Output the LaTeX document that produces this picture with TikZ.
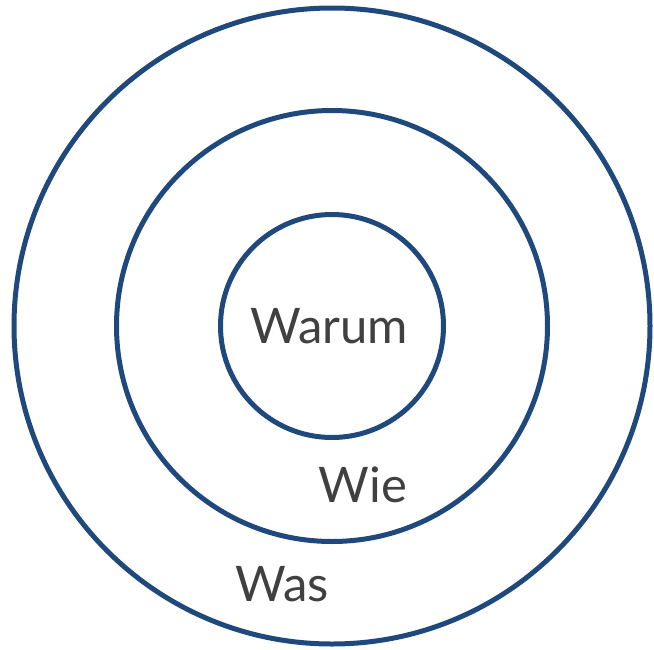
\documentclass[tikz,border=0pt]{standalone}
\usepackage{fontspec}
\setmainfont{Lato}
\usepackage{tikz}
\usetikzlibrary{positioning}
\definecolor{ringblue}{RGB}{31,73,125}
\definecolor{textgray}{RGB}{64,64,64}

\begin{document}
\begin{tikzpicture}[x=1pt,y=-1pt]
                \useasboundingbox (0,0) rectangle (654,649);
                \def\rA{318}
                \def\rB{215.5}
                \def\rC{111.5}
                \coordinate (m) at (332,326);
                %Rings
                \draw[ringblue, line width=5pt] (m) circle(\rA pt);
                \draw[ringblue, line width=5pt] (m) circle(\rB pt);
                \draw[ringblue, line width=5pt] (m) circle(\rC pt);
                %Labels
                \node[anchor=base, textgray, inner sep=0pt, font=\fontsize{49}{58}\selectfont] (warum) at (329,343) {Warum};
                \node[anchor=base, textgray, inner sep=0pt, font=\fontsize{49}{58}\selectfont] (wie) at (363,502) {Wie};
                \node[anchor=base, textgray, inner sep=0pt, font=\fontsize{49}{58}\selectfont] (was) at (282,601) {Was};
            \end{tikzpicture}
\end{document}
